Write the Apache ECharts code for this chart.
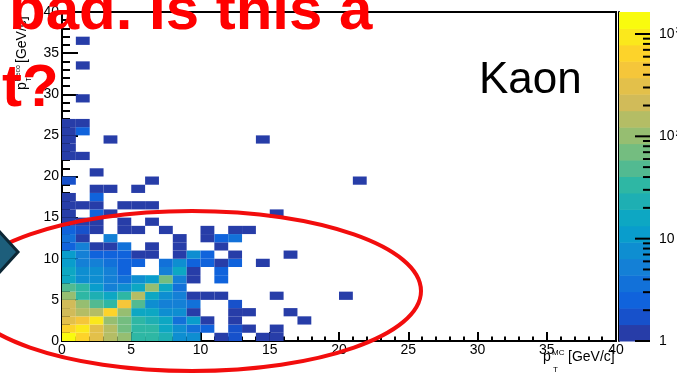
<!DOCTYPE html>
<html><head><meta charset="utf-8">
<script src="https://cdn.jsdelivr.net/npm/echarts@6/dist/echarts.min.js"></script>
<style>html,body{margin:0;padding:0;background:#fff;overflow:hidden}#c{width:677px;height:375px}</style>
</head><body><div id="c"></div>
<script>
// ---- data: counts per 1x1 GeV bin, row index = pT^Reco bin (0..), column index = pT^MC bin (0..)
const binCounts = [
  [1500, 600, 300, 150, 100, 35, 35, 20, 8, 7, 0, 1, 2, 0, 1, 1],
  [700, 1100, 300, 140, 80, 35, 30, 18, 7, 4, 3, 0, 2, 1, 0, 1],
  [280, 400, 800, 120, 70, 35, 22, 16, 4, 10, 1, 0, 1, 0, 0, 0, 0, 1],
  [200, 130, 150, 550, 90, 16, 14, 8, 7, 1, 0, 0, 1, 1, 0, 0, 1],
  [190, 90, 50, 40, 400, 55, 9, 6, 6, 4, 0, 0, 2],
  [120, 35, 25, 15, 40, 150, 15, 8, 6, 1, 1, 1, 0, 0, 0, 1, 0, 0, 0, 0, 1],
  [55, 35, 13, 5, 8, 16, 90, 15, 4],
  [16, 8, 8, 5, 4, 8, 13, 60, 6, 1, 0, 3],
  [15, 7, 7, 6, 3, 0, 0, 6, 15, 1, 0, 3],
  [12, 6, 6, 4, 3, 3, 0, 4, 8, 3, 3, 1, 3, 0, 1],
  [12, 5, 3, 3, 3, 1, 1, 0, 1, 8, 3, 0, 1, 0, 0, 0, 1],
  [3, 6, 1, 1, 4, 0, 1, 0, 1, 0, 0, 1],
  [4, 1, 0, 6, 0, 0, 0, 0, 1, 0, 1, 3, 4],
  [3, 2, 1, 0, 1, 1, 0, 1, 0, 0, 1, 0, 1, 1],
  [1, 1, 1, 0, 1, 0, 1],
  [1, 0, 3, 1, 0, 0, 0, 0, 0, 0, 0, 0, 0, 0, 0, 1],
  [1, 1, 1, 0, 1, 1, 1],
  [1, 0, 3],
  [0, 0, 1, 1, 0, 1],
  [2, 0, 0, 0, 0, 0, 1, 0, 0, 0, 0, 0, 0, 0, 0, 0, 0, 0, 0, 0, 0, 1],
  [0, 0, 1],
  [],
  [1, 1],
  [1],
  [1, 0, 0, 1, 0, 0, 0, 0, 0, 0, 0, 0, 0, 0, 1],
  [1, 3],
  [1, 1],
  [],
  [],
  [0, 1],
  [], [], [],
  [0, 1],
  [], [],
  [0, 1]
];
const axisRange = [0, 40];
const zMin = 1, zMax = 1640, nContours = 20;
const cbMajor = [1, 10, 100, 1000];
const cbMinor = [2, 3, 4, 5, 6, 7, 8, 9, 20, 30, 40, 50, 60, 70, 80, 90, 200, 300, 400, 500, 600, 700, 800, 900];
const cbLabels = {1: '1', 10: '10', 100: '10{s|2}', 1000: '10{s|3}'};
const histTitle = 'Kaon';
const annotTop = 'bad. Is this a';
const annotLeft = 't?';

// ---- ROOT kBird palette
const birdStops = [0, 0.125, 0.25, 0.375, 0.5, 0.625, 0.75, 0.875, 1];
const birdR = [0.2082, 0.0592, 0.0780, 0.0232, 0.1802, 0.5301, 0.8186, 0.9956, 0.9764];
const birdG = [0.1664, 0.3599, 0.5041, 0.6419, 0.7178, 0.7492, 0.7328, 0.7862, 0.9832];
const birdB = [0.5293, 0.8684, 0.8385, 0.7914, 0.6425, 0.4662, 0.3499, 0.1968, 0.0539];
function bird(t) {
  t = Math.max(0, Math.min(1, t));
  let s = 0;
  while (s < birdStops.length - 2 && t > birdStops[s + 1]) s++;
  const f = (t - birdStops[s]) / (birdStops[s + 1] - birdStops[s]);
  const c = a => Math.round(255 * (a[s] + f * (a[s + 1] - a[s])));
  return 'rgb(' + c(birdR) + ',' + c(birdG) + ',' + c(birdB) + ')';
}
function bandColor(k) {
  const idx = Math.floor((k + 0.99) * 255 / nContours);
  return bird(idx / 254);
}
const logMin = Math.log10(zMin), logMax = Math.log10(zMax);
const dl = (logMax - logMin) / nContours;
function colorFor(v) {
  let k = Math.floor((Math.log10(v) - logMin) / dl);
  k = Math.max(0, Math.min(nContours - 1, k));
  return bandColor(k);
}

const cells = [];
binCounts.forEach((row, j) => row.forEach((v, i) => { if (v > 0) cells.push([i, j, v]); }));
const bands = [];
for (let k = 0; k < nContours; k++) bands.push([0, Math.pow(10, logMin + k * dl), Math.pow(10, logMin + (k + 1) * dl), k]);
const cbTicks = cbMajor.map(v => [1, v, 1]).concat(cbMinor.map(v => [1, v, 0]));

const FONT = '"Liberation Sans", Arial, Helvetica, sans-serif';
const chart = echarts.init(document.getElementById('c'), null, {renderer: 'canvas'});

function txt(text, x, baseline, size, opts) {
  opts = opts || {};
  return {
    type: 'text', z: opts.z || 50, x: x, y: baseline - 0.3465 * size,
    style: {
      text: text, fill: opts.fill || '#000',
      font: (opts.weight || 'normal') + ' ' + size + 'px ' + FONT,
      align: opts.align || 'left', verticalAlign: 'middle',
      textAlign: opts.align || 'left', textVerticalAlign: 'middle'
    }
  };
}

const axisCommon = {
  type: 'value', min: axisRange[0], max: axisRange[1], interval: 5,
  axisLine: {show: true, onZero: false, lineStyle: {color: '#000', width: 2}},
  splitLine: {show: false}, minorSplitLine: {show: false}
};

const option = {
  animation: false,
  backgroundColor: '#fff',
  grid: [
    {left: 62, top: 12, width: 554, height: 329, show: true, borderColor: '#000', borderWidth: 2,
      backgroundColor: 'rgba(0,0,0,0)', containLabel: false, outerBoundsMode: 'none'},
    {left: 619, top: 12, width: 31, height: 329, containLabel: false, outerBoundsMode: 'none'}
  ],
  xAxis: [
    Object.assign({}, axisCommon, {
      gridIndex: 0,
      axisTick: {show: true, inside: true, length: 9, lineStyle: {color: '#000', width: 2}},
      minorTick: {show: true, splitNumber: 5, length: 4.5, lineStyle: {color: '#000', width: 2}},
      axisLabel: {color: '#000', fontSize: 14, fontFamily: FONT, margin: 2, showMinLabel: true, showMaxLabel: true}
    }),
    {gridIndex: 1, type: 'value', min: 0, max: 1, show: false}
  ],
  yAxis: [
    Object.assign({}, axisCommon, {
      gridIndex: 0,
      axisTick: {show: true, inside: true, length: 16, lineStyle: {color: '#000', width: 2}},
      minorTick: {show: true, splitNumber: 5, length: 8, lineStyle: {color: '#000', width: 2}},
      axisLabel: {color: '#000', fontSize: 14, fontFamily: FONT, margin: 3, showMinLabel: true, showMaxLabel: true}
    }),
    {
      gridIndex: 1, type: 'log', logBase: 10, min: zMin, max: zMax, position: 'right',
      axisLine: {show: true, lineStyle: {color: '#000', width: 2}},
      axisTick: {show: false}, splitLine: {show: false}, minorTick: {show: false},
      axisLabel: {
        color: '#000', fontSize: 14, fontFamily: FONT, margin: 9, showMaxLabel: true, showMinLabel: true,
        formatter: v => { const r = Math.round(v); return (Math.abs(v - r) < 1e-6 * r && cbLabels[r]) ? cbLabels[r] : ''; },
        rich: {s: {fontSize: 9, fontFamily: FONT, color: '#000', verticalAlign: 'top', padding: [0, 0, 6, 1]}}
      }
    }
  ],
  series: [
    {
      type: 'custom', xAxisIndex: 0, yAxisIndex: 0, data: cells, clip: true, silent: true,
      encode: {x: 0, y: 1},
      renderItem: (params, api) => {
        const i = api.value(0), j = api.value(1);
        const a = api.coord([i, j + 1]), b = api.coord([i + 1, j]);
        return {type: 'rect', shape: {x: a[0], y: a[1], width: b[0] - a[0], height: b[1] - a[1]},
          style: {fill: colorFor(api.value(2))}};
      }
    },
    {
      type: 'custom', xAxisIndex: 1, yAxisIndex: 1, data: bands, silent: true,
      encode: {x: 0, y: 1},
      renderItem: (params, api) => {
        const a = api.coord([0, api.value(2)]), b = api.coord([1, api.value(1)]);
        return {type: 'rect', shape: {x: a[0], y: a[1], width: b[0] - a[0], height: b[1] - a[1] + 0.5},
          style: {fill: bandColor(api.value(3))}};
      }
    },
    {
      type: 'custom', xAxisIndex: 1, yAxisIndex: 1, data: cbTicks, silent: true, z: 5,
      encode: {x: 0, y: 1},
      renderItem: (params, api) => {
        const p = api.coord([1, api.value(1)]);
        const len = api.value(2) ? 15 : 7;
        return {type: 'line', shape: {x1: p[0], y1: p[1], x2: p[0] - len, y2: p[1]},
          style: {stroke: '#000', lineWidth: 2}};
      }
    }
  ],
  graphic: [
    txt(histTitle, 479, 96, 44),
    // x-axis title
    txt('p', 543, 362, 14),
    txt('MC', 552, 356, 8),
    txt('T', 553, 373, 8),
    txt('[GeV/c]', 568, 362, 14),
    // y-axis title (rotated)
    {
      type: 'group', x: 27, y: 90, rotation: Math.PI / 2, z: 50,
      children: [
        txt('p', 0, 0, 14),
        txt('Reco', 8.5, -7, 7),
        txt('T', 8.5, 4, 7),
        txt('[GeV/c]', 27, 0, 14)
      ]
    },
    // overlays
    {
      type: 'ellipse', z: 100, shape: {cx: 192, cy: 291, rx: 229, ry: 80},
      style: {fill: null, stroke: '#f20d0d', lineWidth: 4}
    },
    {
      type: 'polygon', z: 100, shape: {points: [[-24, 206], [18, 252], [-24, 298]]},
      style: {fill: '#1d5e7b', stroke: '#0c2735', lineWidth: 3}
    },
    txt(annotTop, 9, 33, 60, {fill: '#ff0000', weight: 'bold', z: 110}),
    txt(annotLeft, 2, 110, 60, {fill: '#ff0000', weight: 'bold', z: 110})
  ]
};
chart.setOption(option);
</script>
</body></html>
